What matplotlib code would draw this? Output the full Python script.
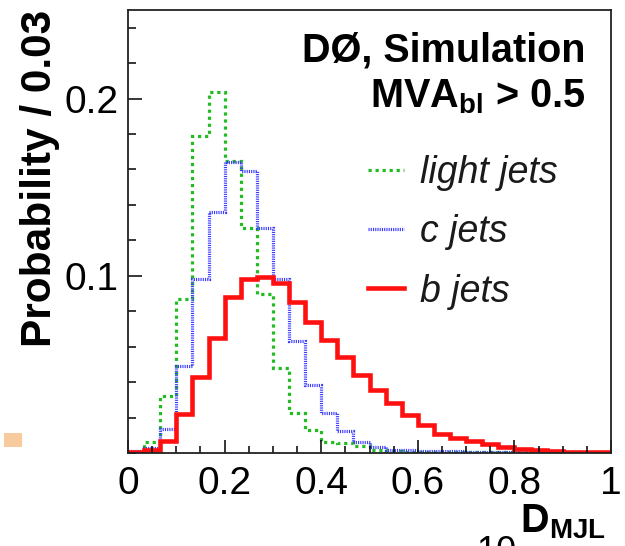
# D0 simulation: D_MJL distributions for light, c and b jets (MVA_bl > 0.5)

import numpy as np
import matplotlib
matplotlib.use('Agg')
import matplotlib.pyplot as plt
from matplotlib.patches import Rectangle
from matplotlib.ticker import MultipleLocator, FixedLocator


# %% data (30 bins from 0 to 1)
bin_edges = np.linspace(0, 1, 31)

light_jets = [0.0005, 0.006, 0.032, 0.087, 0.179, 0.204, 0.165, 0.127, 0.090, 0.048,
              0.0225, 0.013, 0.0062, 0.0058, 0.0042, 0.0018, 0.001, 0.0008, 0.0007, 0.0006,
              0.0005, 0.0004, 0.0004, 0.0003, 0.0003, 0.0002, 0.0002, 0.0001, 0.0, 0.0]

c_jets = [0.001, 0.003, 0.0135, 0.049, 0.098, 0.136, 0.164, 0.159, 0.127, 0.098,
          0.063, 0.0385, 0.0225, 0.0125, 0.006, 0.0035, 0.0018, 0.0015, 0.0012, 0.001,
          0.0009, 0.0008, 0.0007, 0.0006, 0.0005, 0.0004, 0.0003, 0.0002, 0.0001, 0.0]

b_jets = [0.0005, 0.0015, 0.007, 0.022, 0.043, 0.065, 0.088, 0.098, 0.0995, 0.096,
          0.085, 0.074, 0.064, 0.054, 0.044, 0.0355, 0.028, 0.0215, 0.016, 0.011,
          0.0085, 0.0065, 0.005, 0.0035, 0.0023, 0.0015, 0.001, 0.0006, 0.0004, 0.0003]

x_ticks = [0, 0.2, 0.4, 0.6, 0.8, 1.0]
x_tick_labels = ['0', '0.2', '0.4', '0.6', '0.8', '1']
y_ticks = [0.1, 0.2]
y_tick_labels = ['0.1', '0.2']


# %% fonts
plt.rcParams['font.family'] = ['Liberation Sans', 'DejaVu Sans']
plt.rcParams['mathtext.fontset'] = 'custom'
plt.rcParams['mathtext.rm'] = 'Liberation Sans'
plt.rcParams['mathtext.bf'] = 'Liberation Sans:bold'
plt.rcParams['mathtext.it'] = 'Liberation Sans:italic'

W, H = 625, 546
fig = plt.figure(figsize=(W / 100, H / 100), dpi=100)
ax = fig.add_axes([128 / W, 1 - 453 / H, 483 / W, 443 / H])


# %% histograms
ax.stairs(light_jets, bin_edges, color='#22bb22', lw=2.3,
          linestyle=(0, (1, 1.2)), label='light jets')
ax.stairs(c_jets, bin_edges, color='#3a3aff', lw=2.3,
          linestyle=(0, (0.35, 0.35)), label='c jets')
ax.stairs(b_jets, bin_edges, color='#ff1010', lw=3.3, label='b jets')

ax.set_xlim(0, 1)
ax.set_ylim(0, 0.25)

ax.xaxis.set_major_locator(FixedLocator(x_ticks))
ax.set_xticklabels(x_tick_labels)
ax.xaxis.set_minor_locator(MultipleLocator(0.05))
ax.yaxis.set_major_locator(FixedLocator(y_ticks))
ax.set_yticklabels(y_tick_labels)
ax.yaxis.set_minor_locator(MultipleLocator(0.02))

ax.tick_params(axis='both', which='both', direction='in', top=False, right=False,
               color='black', width=1.1)
ax.tick_params(axis='x', which='major', length=9.5, pad=9, labelsize=28)
ax.tick_params(axis='x', which='minor', length=5)
ax.tick_params(axis='y', which='major', length=10, pad=7, labelsize=28)
ax.tick_params(axis='y', which='minor', length=6)
for side in ax.spines.values():
    side.set_linewidth(1.3)
    side.set_color('#222222')

leg = ax.legend(loc='upper left', bbox_to_anchor=(368 / W, 1 - 155 / H),
                bbox_transform=fig.transFigure, frameon=False,
                prop={'style': 'italic', 'size': 27}, handlelength=0.95,
                handletextpad=0.45, labelspacing=0.62, borderpad=0, borderaxespad=0)
for t in leg.get_texts():
    t.set_color('#1a1a1a')


# %% text
fig.text(585 / W, 1 - 62 / H, 'DØ, Simulation', ha='right', va='baseline',
         fontsize=28.5, fontweight='bold')
fig.text(585 / W, 1 - 107 / H, r'MVA$_{\mathbf{bl}}$ > 0.5', ha='right', va='baseline',
         fontsize=28.5, fontweight='bold')
fig.text(40 / W, 1 - 10 / H, 'Probability / 0.03', rotation=90, ha='center', va='top',
         fontsize=30.5, fontweight='bold')
fig.text(606 / W, 1 - 532 / H, r'$\mathbf{D_{MJL}}$', ha='right', va='baseline',
         fontsize=28.5)
# page number fragment cut off by the bottom edge, as in the source
fig.text(496 / W, 1 - 535 / H, '10', ha='center', va='top', fontsize=26)

# small orange smudge left of the axis (from the source slide)
fig.patches.append(Rectangle((4 / W, 1 - 447 / H), 18 / W, 14 / H,
                             transform=fig.transFigure, color='#f6c28c', alpha=0.85, lw=0))

fig.savefig('out.png', dpi=100)
